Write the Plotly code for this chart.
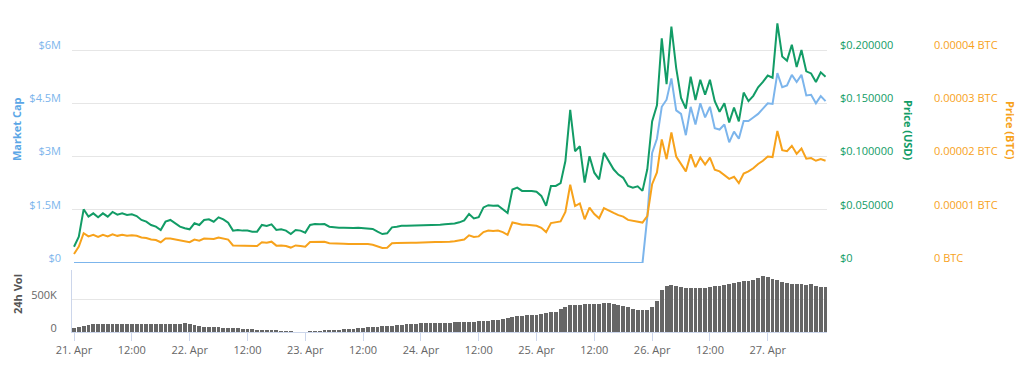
import pandas as pd
import plotly.graph_objects as go

# ---------------- data (hourly, 21 Apr 00:00 -> 27 Apr 12:00) ----------------
start = "2018-04-21 00:00"

price_usd = [
    0.0153, 0.0247, 0.0504, 0.0435, 0.0466, 0.0429, 0.0466, 0.0435, 0.0479, 0.0454, 0.0466, 0.0451,
    0.0457, 0.0441, 0.0404, 0.0388, 0.0357, 0.0341, 0.0310, 0.0388, 0.0404, 0.0373, 0.0341, 0.0326,
    0.0316, 0.0373, 0.0357, 0.0404, 0.0410, 0.0388, 0.0429, 0.0410, 0.0379, 0.0304, 0.0310, 0.0304,
    0.0304, 0.0294, 0.0294, 0.0357, 0.0348, 0.0363, 0.0310, 0.0316, 0.0304, 0.0272, 0.0310, 0.0304,
    0.0285, 0.0357, 0.0366, 0.0363, 0.0366, 0.0341, 0.0335, 0.0332, 0.0332, 0.0329, 0.0329, 0.0332,
    0.0329, 0.0326, 0.0320, 0.0294, 0.0272, 0.0279, 0.0335, 0.0341, 0.0350, 0.0350, 0.0351, 0.0350,
    0.0351, 0.0354, 0.0357, 0.0360, 0.0360, 0.0363, 0.0366, 0.0370, 0.0382, 0.0400, 0.0460, 0.0419,
    0.0430, 0.0522, 0.0543, 0.0537, 0.0540, 0.0506, 0.0469, 0.0690, 0.0708, 0.0677, 0.0680, 0.0677,
    0.0670, 0.0630, 0.0537, 0.0724, 0.0724, 0.0750, 0.0957, 0.1438, 0.1050, 0.1096, 0.0755, 0.1003,
    0.0848, 0.0786, 0.1034, 0.0950, 0.0880, 0.0830, 0.0800, 0.0724, 0.0708, 0.0720, 0.0677, 0.0880,
    0.1330, 0.1480, 0.2110, 0.1680, 0.2220, 0.1830, 0.1550, 0.1450, 0.1750, 0.1530, 0.1720, 0.1580,
    0.1720, 0.1520, 0.1420, 0.1500, 0.1320, 0.1460, 0.1330, 0.1600, 0.1520, 0.1570, 0.1650, 0.1700,
    0.1760, 0.1740, 0.2250, 0.1940, 0.1900, 0.2050, 0.1840, 0.2000, 0.1800, 0.1780, 0.1700, 0.1790,
    0.1750,
]

price_btc = [
    1.7e-6, 3.1e-6, 5.6e-6, 5.0e-6, 5.3e-6, 4.9e-6, 5.3e-6, 5.0e-6, 5.4e-6, 5.1e-6, 5.3e-6, 5.1e-6,
    5.2e-6, 5.1e-6, 4.8e-6, 4.7e-6, 4.4e-6, 4.3e-6, 3.9e-6, 4.6e-6, 4.6e-6, 4.4e-6, 4.2e-6, 4.0e-6,
    3.9e-6, 4.4e-6, 4.2e-6, 4.6e-6, 4.6e-6, 4.5e-6, 4.8e-6, 4.6e-6, 4.4e-6, 3.3e-6, 3.3e-6, 3.3e-6,
    3.3e-6, 3.2e-6, 3.2e-6, 3.9e-6, 3.8e-6, 4.0e-6, 3.26e-6, 3.3e-6, 3.2e-6, 2.9e-6, 3.3e-6, 3.2e-6,
    3.07e-6, 3.95e-6, 4.0e-6, 3.95e-6, 4.0e-6, 3.7e-6, 3.63e-6, 3.63e-6, 3.63e-6, 3.57e-6, 3.57e-6, 3.63e-6,
    3.57e-6, 3.57e-6, 3.44e-6, 3.13e-6, 2.82e-6, 2.88e-6, 3.7e-6, 3.76e-6, 3.82e-6, 3.82e-6, 3.82e-6, 3.82e-6,
    3.88e-6, 3.88e-6, 3.95e-6, 3.95e-6, 3.95e-6, 3.95e-6, 4.0e-6, 4.1e-6, 4.2e-6, 4.4e-6, 5.2e-6, 4.9e-6,
    5.0e-6, 5.8e-6, 6.1e-6, 6.0e-6, 6.1e-6, 5.8e-6, 5.3e-6, 7.6e-6, 7.4e-6, 7.2e-6, 7.2e-6, 7.1e-6,
    7.0e-6, 6.6e-6, 5.8e-6, 7.5e-6, 7.6e-6, 7.8e-6, 9.6e-6, 1.47e-5, 1.07e-5, 1.12e-5, 8.2e-6, 1.04e-5,
    9.2e-6, 8.4e-6, 1.03e-5, 9.8e-6, 9.4e-6, 9.0e-6, 8.7e-6, 8.1e-6, 7.9e-6, 7.8e-6, 7.6e-6, 8.8e-6,
    1.48e-5, 1.70e-5, 2.32e-5, 1.95e-5, 2.45e-5, 2.00e-5, 1.85e-5, 1.72e-5, 2.04e-5, 1.80e-5, 1.98e-5, 1.85e-5,
    1.98e-5, 1.75e-5, 1.72e-5, 1.65e-5, 1.58e-5, 1.62e-5, 1.50e-5, 1.68e-5, 1.72e-5, 1.78e-5, 1.86e-5, 1.92e-5,
    2.00e-5, 1.99e-5, 2.48e-5, 2.12e-5, 2.10e-5, 2.20e-5, 2.05e-5, 2.15e-5, 1.96e-5, 1.97e-5, 1.92e-5, 1.95e-5,
    1.92e-5,
]

market_cap = [
    0, 0, 0, 0, 0, 0, 0, 0, 0, 0, 0, 0, 0, 0, 0, 0, 0, 0, 0, 0, 0, 0, 0, 0,
    0, 0, 0, 0, 0, 0, 0, 0, 0, 0, 0, 0, 0, 0, 0, 0, 0, 0, 0, 0, 0, 0, 0, 0,
    0, 0, 0, 0, 0, 0, 0, 0, 0, 0, 0, 0, 0, 0, 0, 0, 0, 0, 0, 0, 0, 0, 0, 0,
    0, 0, 0, 0, 0, 0, 0, 0, 0, 0, 0, 0, 0, 0, 0, 0, 0, 0, 0, 0, 0, 0, 0, 0,
    0, 0, 0, 0, 0, 0, 0, 0, 0, 0, 0, 0, 0, 0, 0, 0, 0, 0, 0, 0, 0, 0, 0,
    1.3e6, 3.1e6, 3.5e6, 4.4e6, 4.6e6, 5.2e6, 4.3e6, 4.2e6, 3.6e6, 4.4e6, 3.9e6, 4.5e6,
    4.1e6, 4.4e6, 3.8e6, 3.76e6, 3.9e6, 3.4e6, 3.7e6, 3.5e6, 4.0e6, 4.0e6, 4.1e6, 4.2e6,
    4.35e6, 4.5e6, 4.48e6, 5.35e6, 4.95e6, 5.0e6, 5.3e6, 5.1e6, 5.3e6, 4.72e6, 4.74e6, 4.5e6,
    4.7e6, 4.56e6,
]

volume_k = [
    55, 75, 95, 108, 115, 118, 120, 122, 118, 121, 120, 123, 122, 124, 121, 125, 126, 125, 126, 127, 126, 128, 128, 130,
    126, 110, 88, 78, 75, 72, 70, 68, 66, 62, 58, 52, 45, 40, 36, 32, 27, 22, 18, 15, 10, 3, 0, 0,
    0, 5, 8, 12, 18, 24, 30, 35, 40, 45, 52, 60, 68, 72, 78, 82, 88, 92, 98, 104, 110, 115, 120, 128,
    132, 135, 136, 138, 140, 140, 142, 145, 148, 150, 152, 156, 160, 164, 170, 178, 186, 200, 215, 228, 240, 248, 252, 258,
    262, 270, 285, 296, 310, 345, 385, 405, 412, 415, 418, 420, 425, 430, 438, 436, 428, 412, 398, 372, 350, 338, 335, 340,
    385, 470, 640, 695, 706, 695, 685, 670, 660, 662, 665, 672, 685, 690, 700, 718, 730, 745, 755, 768, 780, 795, 820, 845,
    830, 800, 790, 760, 738, 730, 722, 730, 718, 722, 700, 688, 680,
]

x_tick_vals = pd.date_range(start, periods=13, freq="12h")
x_tick_text = ["21. Apr", "12:00", "22. Apr", "12:00", "23. Apr", "12:00", "24. Apr",
               "12:00", "25. Apr", "12:00", "26. Apr", "12:00", "27. Apr"]

mcap_ticks = [0, 1.5e6, 3e6, 4.5e6, 6e6]
mcap_text = ["$0", "$1.5M", "$3M", "$4.5M", "$6M"]
usd_ticks = [0, 0.05, 0.10, 0.15, 0.20]
usd_text = ["$0", "$0.050000", "$0.100000", "$0.150000", "$0.200000"]
btc_ticks = [0, 0.00001, 0.00002, 0.00003, 0.00004]
btc_text = ["0 BTC", "0.00001 BTC", "0.00002 BTC", "0.00003 BTC", "0.00004 BTC"]
vol_ticks = [0, 500]
vol_text = ["0", "500K"]

times = pd.date_range(start, periods=len(price_usd), freq="h")

# ---------------- styling ----------------
BLUE = "#7cb5ec"
GREEN = "#129c66"
ORANGE = "#f7a21b"
GRID = "#e6e6e6"
FONT = "Open Sans"

OFF = 8  # page body margin in the browser
W, H = 1024 - OFF, 376 - OFF
# target pixel positions in the window
L_PLOT, R_PLOT, T_PLOT, B_PLOT = 72, 827, 20, 332
PAPER_RIGHT = 1014
ml, mt = L_PLOT - OFF, T_PLOT - OFF
mr = (W + OFF) - PAPER_RIGHT
mb = H - (B_PLOT - OFF)
pw = W - ml - mr
ph = H - mt - mb
xdom_end = (R_PLOT - L_PLOT) / pw

def py(ypix):
    return (B_PLOT - ypix) / ph

def px(xpix):
    return (xpix - L_PLOT) / pw

main_bottom = py(263)
vol_top = py(270)
range_scale = (263 - 20) / (263 - 50)

fig = go.Figure()

fig.add_trace(go.Bar(
    x=times, y=volume_k, xaxis="x", yaxis="y",
    marker=dict(color="#666666", line=dict(width=0)),
    width=0.8 * 3600000, showlegend=False, name="24h Vol",
))
fig.add_trace(go.Scatter(
    x=times, y=market_cap, xaxis="x2", yaxis="y2", mode="lines",
    line=dict(color=BLUE, width=2), showlegend=False, name="Market Cap",
))
fig.add_trace(go.Scatter(
    x=times, y=price_usd, xaxis="x2", yaxis="y3", mode="lines",
    line=dict(color=GREEN, width=2), showlegend=False, name="Price (USD)",
))
fig.add_trace(go.Scatter(
    x=times, y=price_btc, xaxis="x2", yaxis="y4", mode="lines",
    line=dict(color=ORANGE, width=2), showlegend=False, name="Price (BTC)",
))

x_range = [pd.Timestamp(start) - pd.Timedelta(minutes=25),
           pd.Timestamp(start) + pd.Timedelta(minutes=156 * 60 + 18)]

fig.update_layout(
    width=W, height=H,
    margin=dict(l=ml, r=mr, t=mt, b=mb, autoexpand=False),
    paper_bgcolor="white", plot_bgcolor="white",
    font=dict(family=FONT, size=11, color="#666666"),
    bargap=0,
    xaxis=dict(
        domain=[0, xdom_end], anchor="y", range=x_range, type="date",
        tickvals=x_tick_vals, ticktext=x_tick_text,
        ticks="outside", ticklen=8, tickcolor="#ccd6eb", tickwidth=1,
        showline=True, linecolor="#ccd6eb", linewidth=1,
        showgrid=False, zeroline=False,
        tickfont=dict(family=FONT, size=11, color="#666666"),
    ),
    xaxis2=dict(
        domain=[0, xdom_end], anchor="y2", matches="x", type="date",
        showticklabels=False, showgrid=False, showline=False, zeroline=False, ticks="",
    ),
    yaxis=dict(
        domain=[0, vol_top], anchor="x", range=[0, 500 * 62 / 33],
        tickvals=vol_ticks, ticktext=vol_text,
        showgrid=True, gridcolor=GRID, zeroline=False,
        showline=True, linecolor="#ccd6eb", linewidth=1,
        ticklabelstandoff=12, ticklabelshift=-4,
        tickfont=dict(family=FONT, size=11, color="#666666"),
    ),
    yaxis2=dict(
        domain=[main_bottom, 1], anchor="x2", range=[0, 6e6 * range_scale],
        tickvals=mcap_ticks, ticktext=mcap_text,
        showgrid=True, gridcolor=GRID, zeroline=False, showline=False,
        ticklabelstandoff=10, ticklabelshift=-5,
        tickfont=dict(family=FONT, size=11, color=BLUE),
    ),
    yaxis3=dict(
        overlaying="y2", side="right", anchor="x2", range=[0, 0.2 * range_scale],
        tickvals=usd_ticks, ticktext=usd_text,
        showgrid=False, zeroline=False, showline=False,
        ticklabelstandoff=12, ticklabelshift=-5,
        tickfont=dict(family=FONT, size=11, color=GREEN),
    ),
    yaxis4=dict(
        overlaying="y2", side="right", anchor="free", position=px(930),
        range=[0, 0.00004 * range_scale],
        tickvals=btc_ticks, ticktext=btc_text,
        showgrid=False, zeroline=False, showline=False,
        ticklabelstandoff=3, ticklabelshift=-5,
        tickfont=dict(family=FONT, size=11, color=ORANGE),
    ),
    annotations=[
        dict(text="<b>Market Cap</b>", xref="paper", yref="paper", x=px(16), y=py(129),
             xanchor="center", yanchor="middle",
             textangle=-90, showarrow=False, font=dict(family=FONT, size=11, color="#5aa6e6")),
        dict(text="<b>Price (USD)</b>", xref="paper", yref="paper", x=px(908), y=py(130),
             xanchor="center", yanchor="middle",
             textangle=90, showarrow=False, font=dict(family=FONT, size=11, color=GREEN)),
        dict(text="<b>Price (BTC)</b>", xref="paper", yref="paper", x=px(1010), y=py(130),
             xanchor="center", yanchor="middle",
             textangle=90, showarrow=False, font=dict(family=FONT, size=11, color=ORANGE)),
        dict(text="<b>24h Vol</b>", xref="paper", yref="paper", x=px(17), y=py(294),
             xanchor="center", yanchor="middle",
             textangle=-90, showarrow=False, font=dict(family=FONT, size=11, color="#555555")),
    ],
)

fig.write_html("out.html")
